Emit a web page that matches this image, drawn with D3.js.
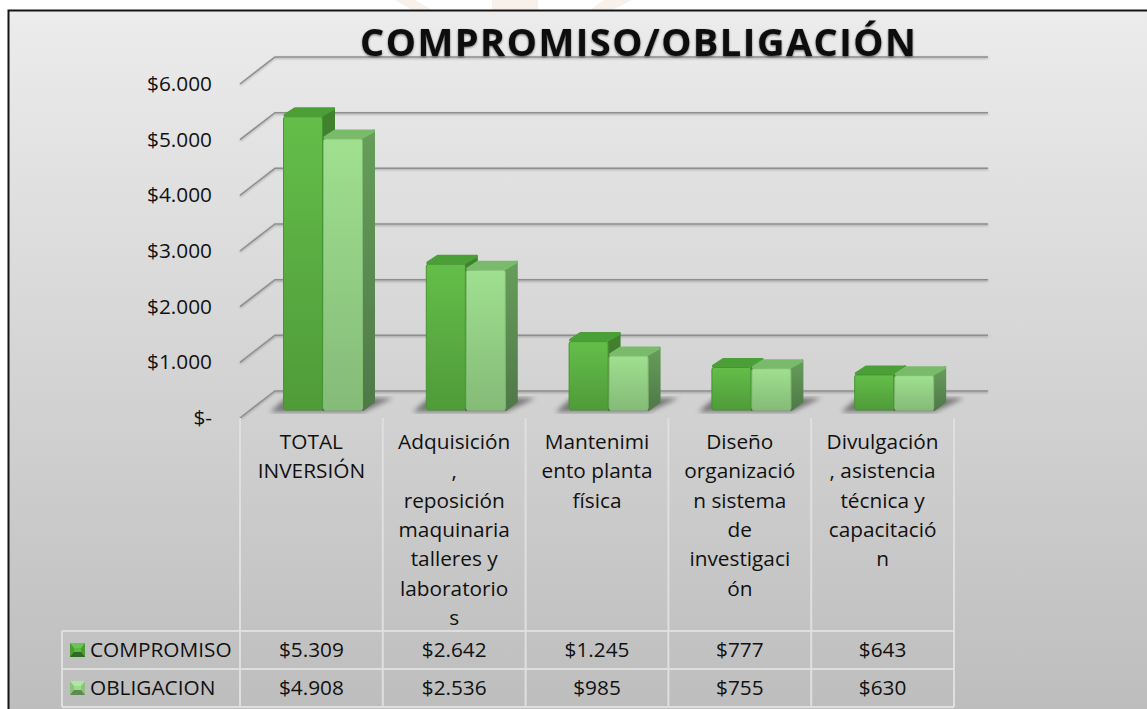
<!DOCTYPE html>
<html>
<head>
<meta charset="utf-8">
<script src="https://cdn.jsdelivr.net/npm/d3@7"></script>
<style>
  body { margin: 0; background: #fff; }
  svg { display: block; }
  text { font-family: "Open Sans", sans-serif; fill: #111; }
</style>
</head>
<body>
<script>
const categories = ['TOTAL INVERSIÓN', 'Adquisición, reposición', 'Mantenimiento', 'Diseño', 'Divulgación'];
const categoryLines = [
    ['TOTAL', 'INVERSIÓN'],
    ['Adquisición', ',', 'reposición', 'maquinaria', 'talleres y', 'laboratorio', 's'],
    ['Mantenimi', 'ento planta', 'física'],
    ['Diseño', 'organizació', 'n sistema', 'de', 'investigaci', 'ón'],
    ['Divulgación', ', asistencia', 'técnica y', 'capacitació', 'n']
];
const compromiso = [5309, 2642, 1245, 777, 643];
const obligacion = [4908, 2536, 985, 755, 630];
const yTicks = [0, 1000, 2000, 3000, 4000, 5000, 6000];
const seriesNames = ['COMPROMISO', 'OBLIGACION'];
const seriesValues = [compromiso, obligacion];

const WIDTH = 1147;
const HEIGHT = 709;
const WALL_DX = 35;
const WALL_DY = 27;
const BAR_DX = 12;
const BAR_DY = 9;
const ROW_Y = [631, 669, 707];

const palette = [
    { hi: '#64be49', lo: '#4f9b39', top: '#4b9f37', sideHi: '#41822e', sideLo: '#3d7430', edge: '#469432' },
    { hi: '#9fe08f', lo: '#85bb78', top: '#79ba6b', sideHi: '#669e5a', sideLo: '#507849', edge: '#80bd71' }
];
const keyColors = [
    { side: '#4a9d36', mid: '#5fb546', light: '#6cc452', dark: '#2f6a22' },
    { side: '#8cc27d', mid: '#9ddb8c', light: '#aee79e', dark: '#5f8a54' }
];

const svg = d3.select('body').append('svg')
    .attr('width', WIDTH)
    .attr('height', HEIGHT);

const defs = svg.append('defs');

const addGradient = (id, stops) => {
    const g = defs.append('linearGradient').attr('id', id)
        .attr('x1', 0).attr('x2', 0).attr('y1', 0).attr('y2', 1);
    stops.forEach((c, i) => g.append('stop').attr('offset', i / (stops.length - 1)).attr('stop-color', c));
};

addGradient('panelFill', ['#ececec', '#bcbcbc']);
palette.forEach((p, i) => {
    addGradient(`front${i}`, [p.hi, p.lo]);
    addGradient(`side${i}`, [p.sideHi, p.sideLo]);
});
defs.append('filter').attr('id', 'soft').append('feGaussianBlur').attr('stdDeviation', 2.5);
const lineShadow = defs.append('filter').attr('id', 'lineShadow');
lineShadow.append('feDropShadow').attr('dx', 0).attr('dy', 1).attr('stdDeviation', 0.8)
    .attr('flood-color', '#000').attr('flood-opacity', 0.3);
const titleShadow = defs.append('filter').attr('id', 'titleShadow');
titleShadow.append('feDropShadow').attr('dx', 0).attr('dy', 1).attr('stdDeviation', 1.2)
    .attr('flood-color', '#000').attr('flood-opacity', 0.55);

// faint watermark showing above the panel
svg.append('g').selectAll('path')
    .data(['M395,0 L412,10 L432,10 L415,0 Z', 'M492,0 L492,10 L538,10 L538,0 Z', 'M590,10 L604,0 L632,0 L612,10 Z'])
    .enter().append('path')
    .attr('d', d => d)
    .attr('fill', '#f8f0ea');

svg.append('rect')
    .attr('x', 8.5).attr('y', 10.5)
    .attr('width', WIDTH + 10).attr('height', HEIGHT + 10)
    .attr('fill', 'url(#panelFill)')
    .attr('stroke', '#151515')
    .attr('stroke-width', 2);

const money = v => v === 0 ? '$-' : '$' + d3.format(',')(v).replace(',', '.');

const x = d3.scaleBand().domain(categories).range([240, 954]);
const xSeries = d3.scaleBand().domain(seriesNames).range([43, 123]);
const y = d3.scaleLinear().domain([0, 6000]).range([418, 84]);
// bars stand a little behind the axis plane, so they get their own scale
const yBar = d3.scaleLinear().domain([0, 6000]).range([410, 78]);

// gridlines on the floor edge and the back wall
svg.append('g').attr('filter', 'url(#lineShadow)').selectAll('polyline').data(yTicks)
    .enter().append('polyline')
    .attr('points', d => `240,${y(d)} ${240 + WALL_DX},${y(d) - WALL_DY} 988,${y(d) - WALL_DY}`)
    .attr('fill', 'none')
    .attr('stroke', '#8e8e8e')
    .attr('stroke-width', 1.5);

const labelSize = '20.8px';

const yAxis = d3.axisLeft(y)
    .tickValues(yTicks)
    .tickSize(0)
    .tickPadding(0)
    .tickFormat(money);

const yAxisGroup = svg.append('g')
    .attr('transform', 'translate(212,0)')
    .call(yAxis);
yAxisGroup.select('.domain').remove();
yAxisGroup.selectAll('text')
    .style('font-size', labelSize)
    .style('font-family', '"Open Sans", sans-serif');

// bars, one group per category
const groups = svg.selectAll('.cat').data(categories)
    .enter().append('g')
    .attr('class', 'cat')
    .attr('transform', d => `translate(${x(d)},0)`);

groups.append('path')
    .attr('d', () => {
        const l = xSeries(seriesNames[0]) - 13;
        const r = xSeries(seriesNames[1]) + xSeries.bandwidth();
        const b = yBar(0) + 2;
        return `M${l},${b} L${r},${b} L${r + 30},${b - 14} L${l + 16},${b - 14} Z`;
    })
    .attr('fill', '#474747')
    .attr('opacity', 0.65)
    .attr('filter', 'url(#soft)');

seriesNames.forEach((name, s) => {
    const w = xSeries.bandwidth();
    const x0 = xSeries(name);
    const bars = groups.append('g');

    bars.append('path')
        .attr('d', (d, i) => {
            const t = yBar(seriesValues[s][i]);
            return `M${x0 + w},${t} L${x0 + w + BAR_DX - 1},${t - BAR_DY + 1} L${x0 + w + BAR_DX - 1},${yBar(0) - BAR_DY + 1} L${x0 + w},${yBar(0)} Z`;
        })
        .attr('fill', `url(#side${s})`)
        .attr('stroke', `url(#side${s})`)
        .attr('stroke-width', 2)
        .attr('stroke-linejoin', 'round');

    bars.append('path')
        .attr('d', (d, i) => {
            const t = yBar(seriesValues[s][i]);
            return `M${x0 + 2},${t - 1} L${x0 + BAR_DX},${t - BAR_DY + 1.5} L${x0 + w + BAR_DX - 1.5},${t - BAR_DY + 1.5} L${x0 + w - 1},${t - 1} Z`;
        })
        .attr('fill', palette[s].top)
        .attr('stroke', palette[s].top)
        .attr('stroke-width', 3)
        .attr('stroke-linejoin', 'round');

    bars.append('rect')
        .attr('x', x0 + 0.5)
        .attr('y', (d, i) => yBar(seriesValues[s][i]) + 0.5)
        .attr('width', w - 1)
        .attr('height', (d, i) => yBar(0) - yBar(seriesValues[s][i]) - 0.5)
        .attr('rx', 2)
        .attr('fill', `url(#front${s})`)
        .attr('stroke', palette[s].edge)
        .attr('stroke-width', 1);
});

// data table under the plot
const columnEdges = categories.map(c => x(c)).concat(x.range()[1]);
const table = svg.append('g').attr('stroke', '#dfdfdf').attr('stroke-width', 2);

table.selectAll('.col').data(columnEdges)
    .enter().append('line')
    .attr('x1', d => d).attr('x2', d => d)
    .attr('y1', y(0)).attr('y2', ROW_Y[2]);
table.selectAll('.row').data(ROW_Y)
    .enter().append('line')
    .attr('x1', 62).attr('x2', 954)
    .attr('y1', d => d).attr('y2', d => d);
table.append('line')
    .attr('x1', 62).attr('x2', 62)
    .attr('y1', ROW_Y[0]).attr('y2', ROW_Y[2]);

svg.selectAll('.cat-label').data(categoryLines)
    .enter().append('text')
    .attr('class', 'cat-label')
    .attr('text-anchor', 'middle')
    .style('font-size', labelSize)
    .each(function (lines, i) {
        d3.select(this).selectAll('tspan').data(lines)
            .enter().append('tspan')
            .attr('x', x(categories[i]) + x.bandwidth() / 2)
            .attr('y', (d, j) => 449 + j * 29.3)
            .text(d => d);
    });

seriesNames.forEach((name, s) => {
    const rowMid = (ROW_Y[s] + ROW_Y[s + 1]) / 2;
    const k = keyColors[s];

    svg.append('rect')
        .attr('x', 70).attr('y', rowMid - 7)
        .attr('width', 15).attr('height', 14)
        .attr('fill', k.side);
    svg.append('path')
        .attr('d', `M70,${rowMid + 7} L85,${rowMid + 7} L81,${rowMid + 2} L74,${rowMid + 2} Z`)
        .attr('fill', k.dark);
    svg.append('path')
        .attr('d', `M70,${rowMid - 7} L85,${rowMid - 7} L81,${rowMid - 2} L74,${rowMid - 2} Z`)
        .attr('fill', k.light);
    svg.append('rect')
        .attr('x', 74).attr('y', rowMid - 2)
        .attr('width', 7).attr('height', 4)
        .attr('fill', k.mid);

    svg.append('text')
        .attr('x', 90)
        .attr('y', rowMid + 7)
        .style('font-size', labelSize)
        .text(name);

    svg.selectAll(`.val${s}`).data(seriesValues[s])
        .enter().append('text')
        .attr('class', `val${s}`)
        .attr('x', (d, i) => x(categories[i]) + x.bandwidth() / 2)
        .attr('y', rowMid + 7)
        .attr('text-anchor', 'middle')
        .style('font-size', labelSize)
        .text(d => money(d));
});

svg.append('text')
    .attr('x', 638)
    .attr('y', 55.5)
    .attr('text-anchor', 'middle')
    .attr('filter', 'url(#titleShadow)')
    .attr('textLength', 556)
    .attr('lengthAdjust', 'spacing')
    .style('font-family', '"Open Sans", sans-serif')
    .style('font-weight', 700)
    .style('font-size', '38px')
    .text('COMPROMISO/OBLIGACIÓN');
</script>
</body>
</html>
